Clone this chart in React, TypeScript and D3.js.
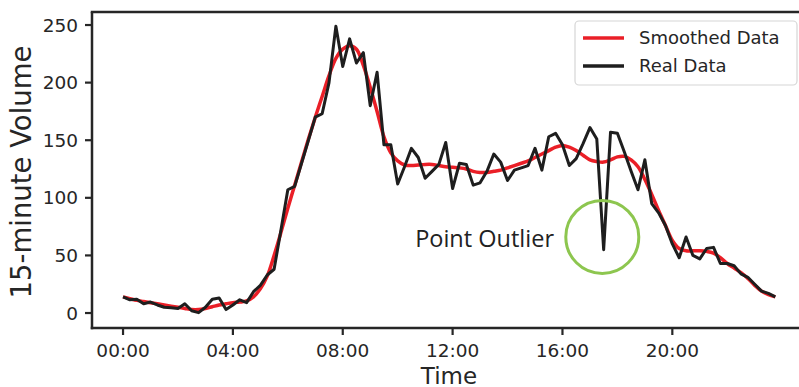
import React from "react";
import * as d3 from "d3";

// 15-minute traffic counts over one day (index i -> i * 15 minutes)
const STEP_HOURS = 0.25;

const realVolume = [
  14, 11.5, 12, 8, 9.5, 7, 5, 4.5, 4, 8,
  2, 0.3, 5, 12, 13, 3, 7, 11.5, 9, 18.5,
  24, 33, 38, 72, 107, 110, 130, 150, 170, 173,
  200, 249, 214, 238, 217, 226, 180, 209, 146, 146,
  112, 127, 143, 135, 117, 123, 129, 148, 108, 130,
  129, 111, 113, 123, 138, 131, 115, 124, 126, 128,
  143, 124, 153, 156, 146, 128, 134, 147, 161, 151,
  55, 157, 156, 140, 123, 107, 133, 95, 87, 76,
  60, 48, 66, 50, 47, 56, 57, 43, 43, 41,
  34, 31, 25, 19, 17, 14,
];

const smoothedVolume = [
  14, 12.5, 11, 10, 9, 8, 7, 6, 5, 4,
  3, 3, 4, 5.5, 7, 8, 9, 9.5, 10.5, 14,
  21, 32, 50, 70, 91, 111, 131, 151, 170, 188,
  206, 221, 229, 232, 229, 215, 196, 175, 153, 139,
  132, 128.5, 128, 128.5, 129, 129, 128, 127, 126.5, 126,
  125, 123, 122, 122, 123, 124, 126, 128, 130, 132,
  135, 138, 141, 144, 145.5, 144, 141, 137, 133, 131.5,
  131, 133, 135.5, 136, 133, 127, 116, 103, 89, 76,
  63, 56, 54, 54, 54, 53.5, 52, 48, 43, 39,
  35, 30, 24, 19, 16, 14,
];

const xTickHours = [0, 4, 8, 12, 16, 20];
const xTickLabels = ["00:00", "04:00", "08:00", "12:00", "16:00", "20:00"];
const yTicks = [0, 50, 100, 150, 200, 250];

const legendItems = [
  { label: "Smoothed Data", color: "#ea1f27" },
  { label: "Real Data", color: "#1e1e1e" },
];

// annotated outlier position (hours, volume)
const outlierMark = { hour: 17.45, value: 66 };

const W = 799;
const H = 387;
const plot = { left: 92, right: 808, top: 12, bottom: 328 };
const FONT = "'DejaVu Sans', sans-serif";
const INK = "#262626";

export default function App() {
  const x = d3.scaleLinear().domain([-1.13, 24.94]).range([plot.left, plot.right]);
  const y = d3.scaleLinear().domain([-13, 261.3]).range([plot.bottom, plot.top]);

  const line = d3
    .line<number>()
    .x((_, i) => x(i * STEP_HOURS))
    .y((d) => y(d));

  const smoothLine = d3
    .line<number>()
    .x((_, i) => x(i * STEP_HOURS))
    .y((d) => y(d))
    .curve(d3.curveCatmullRom);

  const legendX = 575;
  const legendY = 21;

  return (
    <svg
      width={W}
      height={H}
      viewBox={`0 0 ${W} ${H}`}
      style={{ position: "absolute", left: 0, top: 0, background: "#fff" }}
    >
      <defs>
        <clipPath id="plot-area">
          <rect x={plot.left} y={plot.top} width={plot.right - plot.left} height={plot.bottom - plot.top} />
        </clipPath>
      </defs>

      <g clipPath="url(#plot-area)">
        <path
          d={smoothLine(smoothedVolume) ?? ""}
          fill="none"
          stroke={legendItems[0].color}
          strokeWidth={3.5}
          strokeLinejoin="round"
        />
        <path
          d={line(realVolume) ?? ""}
          fill="none"
          stroke={legendItems[1].color}
          strokeWidth={3}
          strokeLinejoin="round"
        />
      </g>

      {/* outlier annotation */}
      <circle
        cx={x(outlierMark.hour)}
        cy={y(outlierMark.value)}
        r={36.5}
        fill="none"
        stroke="#8dc64f"
        strokeWidth={3}
      />
      <text
        x={554}
        y={247}
        textAnchor="end"
        fontFamily="'Open Sans', sans-serif"
        fontSize={23.5}
        fill="#222"
      >
        Point Outlier
      </text>

      {/* spines */}
      <g stroke={INK} strokeWidth={2.5} fill="none">
        <line x1={plot.left} x2={plot.left} y1={plot.top} y2={plot.bottom + 1.25} />
        <line x1={plot.left - 1.25} x2={plot.right} y1={plot.bottom} y2={plot.bottom} />
        <line x1={plot.left - 1.25} x2={plot.right} y1={plot.top} y2={plot.top} />
        <line x1={plot.right} x2={plot.right} y1={plot.top} y2={plot.bottom} />
      </g>

      {/* y axis */}
      {yTicks.map((t) => (
        <g key={t}>
          <line x1={plot.left - 7} x2={plot.left} y1={y(t)} y2={y(t)} stroke={INK} strokeWidth={2.2} />
          <text
            x={plot.left - 14}
            y={y(t)}
            dy="0.36em"
            textAnchor="end"
            fontFamily={FONT}
            fontSize={18.5}
            fill={INK}
          >
            {t}
          </text>
        </g>
      ))}

      {/* x axis */}
      {xTickHours.map((h, i) => (
        <g key={h}>
          <line x1={x(h)} x2={x(h)} y1={plot.bottom} y2={plot.bottom + 7} stroke={INK} strokeWidth={2.2} />
          <text
            x={x(h)}
            y={plot.bottom + 29}
            textAnchor="middle"
            fontFamily={FONT}
            fontSize={18.5}
            fill={INK}
          >
            {xTickLabels[i]}
          </text>
        </g>
      ))}

      <text
        x={449}
        y={384}
        textAnchor="middle"
        fontFamily={FONT}
        fontSize={23}
        fill={INK}
      >
        Time
      </text>
      <text
        transform={`translate(31, ${(plot.top + plot.bottom) / 2 + 2}) rotate(-90)`}
        textAnchor="middle"
        fontFamily={FONT}
        fontSize={27.5}
        fill={INK}
      >
        15-minute Volume
      </text>

      {/* legend */}
      <rect
        x={legendX}
        y={legendY}
        width={222}
        height={64}
        rx={4}
        fill="#fff"
        fillOpacity={0.85}
        stroke="#d6d6d6"
        strokeWidth={1.2}
      />
      {legendItems.map((item, i) => (
        <g key={item.label}>
          <line
            x1={legendX + 8}
            x2={legendX + 49}
            y1={legendY + 17 + i * 28}
            y2={legendY + 17 + i * 28}
            stroke={item.color}
            strokeWidth={3.5}
          />
          <text
            x={legendX + 64}
            y={legendY + 17 + i * 28}
            dy="0.36em"
            fontFamily={FONT}
            fontSize={18}
            fill={INK}
          >
            {item.label}
          </text>
        </g>
      ))}
    </svg>
  );
}
